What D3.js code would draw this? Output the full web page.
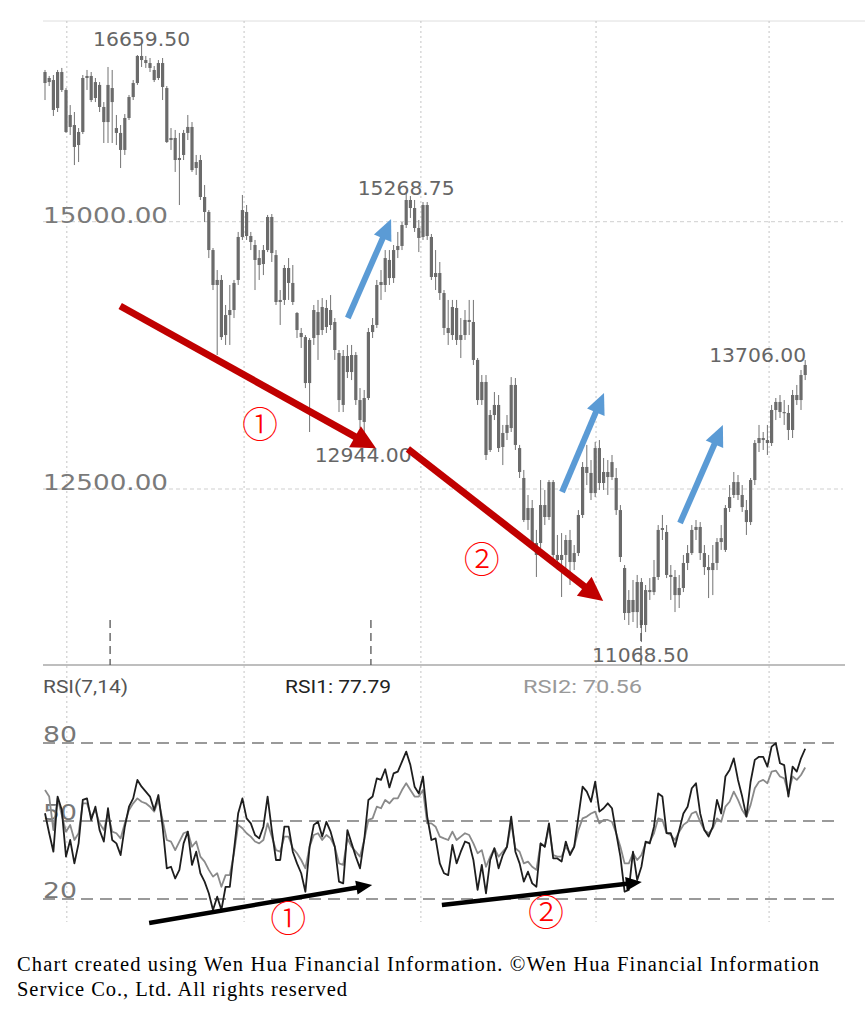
<!DOCTYPE html>
<html><head><meta charset="utf-8">
<script src="https://cdn.jsdelivr.net/npm/d3@7"></script>
<style>body{margin:0;background:#fff}svg{display:block}</style>
</head><body>
<svg id="c" width="865" height="1018"></svg>
<script>
// ---------- DATA ----------
const opens = [16297,16344,16325,16063,16400,16232,15998,15904,15717,15839,
16344,16363,16157,16279,16073,15932,16250,15876,15830,15671,
15970,16166,16297,16550,16512,16484,16419,16344,16484,16250,
15764,15783,15596,15624,15830,15886,15502,15577,15231,15091,
14735,14455,14455,13940,14127,14174,14455,14857,15091,14866,
14782,14660,14604,14735,15044,14688,14249,14268,14567,14427,
14146,13959,13921,13491,13912,14155,13987,14193,14034,14062,
13772,13286,13744,13594,13753,13332,13127,13351,13968,14034,
14408,14408,14642,14473,14735,14773,14969,15203,15128,14941,
14857,15156,14857,14483,14520,14333,14006,13940,14193,13894,
13940,14081,14062,13707,13332,13501,12865,13192,13286,12893,
13024,13070,13473,12883,12603,12210,12322,11995,11995,12350,
12238,12565,11883,11836,11883,12023,11817,11901,12257,12706,
12650,12462,12883,12556,12659,12612,12603,12303,11761,11340,
11462,11349,11630,11228,11555,11536,11677,12117,12098,11696,
11677,11508,11574,11808,11901,12117,12145,11901,11770,11742,
11808,12004,11930,12322,12444,12565,12444,12303,12191,12584,
12930,12977,12958,12930,13239,13314,13220,13211,13052,13379,
13332,13566];
const closes = [16400,16306,16045,16400,16232,15839,15886,15699,15839,16344,
16363,16138,16306,16073,15932,16279,16119,15830,15671,15970,
16166,16297,16550,16512,16484,16438,16325,16484,16260,15745,
15783,15577,15577,15830,15886,15483,15558,15231,15091,14735,
14408,14408,13921,14127,14174,14427,14857,15109,14866,14810,
14642,14595,14735,15044,14707,14249,14268,14567,14427,14249,
13987,13921,13491,13894,14174,13940,14202,14015,14174,13800,
13332,13744,13594,13753,13332,13145,13351,13968,14034,14408,
14436,14660,14473,14735,14773,14969,15203,15128,14941,14848,
15156,14866,14483,14520,14333,14006,13959,14202,13894,13940,
14081,14062,13707,13332,13501,12818,13192,13286,12883,13024,
13099,13473,12912,12659,12210,12322,11995,11883,12350,12238,
12565,11883,11836,11883,12023,11817,11901,12257,12706,12650,
12462,12883,12556,12659,12612,12752,12303,11864,11340,11462,
11349,11630,11228,11555,11536,11677,12117,12135,11696,11677,
11508,11574,11808,11901,12117,12145,11901,11770,11742,11808,
12004,12041,12322,12425,12565,12444,12331,12191,12584,12930,
12977,12958,12930,13239,13314,13220,13211,13052,13379,13332,
13566,13660];
const highs = [16419,16363,16372,16419,16438,16250,16091,16026,15876,16372,
16419,16400,16344,16306,16119,16447,16419,15998,15904,16007,
16185,16325,16559,16659.5,16550,16531,16456,16512,16531,16269,
15876,15858,15830,15858,15998,15932,15624,15624,15343,15109,
14754,14548,14501,14221,14408,14455,14904,15250,15156,14904,
14829,14735,14782,15063,15072,14735,14361,14595,14660,14595,
14155,14006,13940,13912,14221,14268,14286,14268,14314,14099,
13800,13800,13847,13847,13781,13444,13426,14006,14099,14455,
14548,14735,14735,14782,14904,14997,15268.75,15240,15203,15016,
15184,15184,14885,14735,14623,14361,14268,14268,14268,14099,
14174,14268,14268,13725,13566,13566,13239,13407,13379,13099,
13192,13547,13538,12912,12678,12444,12397,12117,12584,12491,
12584,12584,12070,12088,12070,12117,11976,12303,12752,12912,
12771,12940,12958,12790,12771,12818,12696,12350,11789,11555,
11649,11696,11667,11602,11667,11836,12163,12257,12163,11789,
11742,11696,11883,11976,12163,12210,12191,11976,11883,11976,
12041,12163,12350,12537,12659,12631,12537,12397,12603,12958,
13099,13033,13099,13286,13351,13379,13332,13286,13426,13473,
13613,13706];
const lows = [16138,16269,15989,16026,16213,15830,15811,15530,15558,15820,
16232,16119,16119,16026,15736,15736,15736,15717,15502,15624,
15951,16138,16279,16447,16438,16400,16306,16325,16138,15736,
15671,15465,15156,15577,15764,15465,15437,15203,14997,14660,
14361,13753,13894,13847,13847,14099,14408,14829,14829,14735,
14361,14455,14501,14716,14623,14221,14034,14221,14268,14221,
13912,13819,13444,13033,13847,13707,13940,13959,13987,13707,
13220,13220,13538,13519,13286,13070,12944,13332,13912,14006,
14268,14342,14408,14427,14660,14735,14941,15035,14904,14716,
14829,14829,14455,14361,14268,13940,13847,13894,13847,13725,
13894,13940,13660,13286,13286,12771,12846,13145,12846,12724,
12958,13033,12865,12603,12191,12117,11948,11677,11948,12163,
12210,11836,11742,11490,11696,11602,11742,11873,12229,12537,
12397,12425,12491,12491,12444,12584,12257,11817,11275,11228,
11256,11200,11068.5,11162,11462,11508,11649,12023,11667,11462,
11349,11387,11536,11742,11883,12023,11836,11696,11480,11508,
11742,11930,11911,12285,12416,12397,12285,12070,12163,12537,
12846,12865,12818,12902,13145,13164,13099,12958,12977,13286,
13239,13519];
const rsi1 = [53.0,45.3,38.2,59.4,54.2,36.3,42.7,33.7,41.4,58.1,
58.7,50.4,55.5,46.5,42.1,54.9,42.7,41.4,36.9,47.8,
55.5,58.7,65.8,63.2,61.3,59.4,54.2,60.0,47.8,31.8,
32.4,27.9,31.2,41.4,45.9,33.1,38.2,29.9,26.7,22.2,
15.8,20.9,15.8,24.7,24.7,38.8,53.0,58.7,51.0,49.1,
44.6,43.3,47.8,59.4,46.5,35.0,35.0,47.8,47.8,38.2,
33.7,29.9,22.8,40.1,48.5,49.7,44.0,49.7,45.9,40.1,
26.7,26.0,46.5,41.4,36.3,31.8,42.7,58.1,59.4,66.4,
65.8,69.9,62.9,68.3,69.0,72.8,76.7,71.5,63.2,60.6,
67.1,51.7,42.7,43.3,33.7,29.9,29.2,40.8,33.7,38.2,
42.1,41.4,35.0,23.5,33.1,22.2,35.0,39.5,31.8,36.9,
40.1,51.7,38.2,33.7,26.7,30.5,26.0,24.7,41.4,40.1,
49.1,35.6,35.6,34.4,42.1,36.9,40.1,51.7,63.2,61.3,
57.4,65.1,53.6,54.9,56.8,54.9,45.3,36.3,22.8,23.5,
38.2,27.3,32.4,42.1,41.4,47.8,60.6,59.4,45.3,45.3,
40.1,46.5,52.9,55.5,62.6,64.5,52.9,46.5,44.0,47.8,
58.1,52.9,67.1,69.6,74.1,65.8,59.4,51.7,65.1,73.5,
74.7,74.7,70.9,78.6,79.9,72.2,71.5,59.4,70.9,69.0,
74.1,77.79];
const rsi2 = [61.9,59.4,46.5,58.7,52.3,45.9,48.5,42.7,45.3,56.8,
56.8,51.7,54.2,49.1,46.5,52.9,45.9,45.3,43.3,49.1,
54.2,56.8,58.7,57.4,56.8,55.5,53.6,58.1,50.4,42.7,
42.1,38.8,42.1,45.3,45.9,40.1,42.1,36.3,34.4,31.2,
28.6,29.9,24.7,29.2,29.2,37.6,48.5,47.2,45.3,44.0,
42.1,41.4,42.7,49.1,44.0,38.8,38.2,44.0,44.0,39.5,
37.6,35.0,31.8,40.1,44.6,45.3,42.7,44.6,43.3,40.1,
33.7,33.1,43.3,40.1,38.2,36.3,42.7,50.4,51.0,55.5,
54.9,58.1,56.8,58.7,58.7,61.9,64.5,61.9,59.4,59.4,
61.9,49.1,49.1,47.8,44.0,43.3,42.7,45.9,42.7,44.0,
45.3,44.6,41.4,37.6,38.8,32.4,36.3,39.5,36.3,38.2,
40.1,49.1,39.5,38.2,33.7,34.4,32.4,31.2,41.4,40.1,
47.8,36.9,36.3,36.3,40.1,37.6,40.1,46.5,51.0,51.7,
52.9,53.6,49.1,50.4,50.4,49.7,45.3,40.1,33.7,33.7,
37.6,35.0,36.9,41.4,42.1,45.3,51.0,50.4,45.3,44.6,
42.7,45.9,48.5,49.7,52.9,53.6,49.7,46.5,45.3,47.2,
51.0,49.7,55.5,57.4,61.3,58.1,54.2,51.7,56.2,62.6,
65.1,65.8,64.5,69.0,69.4,67.1,66.4,60.6,67.1,65.8,
67.7,70.56];
const priceTicks = [15000, 12500];
const rsiTicks = [80, 50, 20];
const gridIdx = [5.2, 47.4, 89.5, 131.2, 172.4];
const markerIdx = [15.5, 77.6, 141.9];
const extremeIdx = [23, 86, 76, 142, 181];
const extremeKind = ["high", "high", "low", "low", "highEnd"];
const rsiLegend = ["RSI(7,14)", "RSI1: 77.79", "RSI2: 70.56"];
const redArrows = [[17.9, 14212, 78.8, 12880], [86.4, 12874, 132.9, 11452]];
const blueArrows = [[72.1, 14099, 82.4, 15025], [123.1, 12472, 133.1, 13398], [151.2, 12182, 161.4, 13099]];
const rsiArrows = [[24.8, 10.8, 77.9, 25.4], [94.5, 17.7, 142.1, 26.5]];
const priceMarks = [["①", 51.2, 13099], ["②", 104, 11836]];
const rsiMarks = [["①", 57.9, 12.3], ["②", 119.3, 14.6]];
const footer = ["Chart created using Wen Hua Financial Information. ©Wen Hua Financial Information",
                "Service Co., Ltd. All rights reserved"];

// ---------- SCALES ----------
const svg = d3.select("#c");
const n = closes.length;
const x = d3.scaleLinear().domain([0, n - 1]).range([45, 805.2]);
const y = d3.scaleLinear().domain([12500, 15000]).range([489, 221.7]);
const yr = d3.scaleLinear().domain([20, 80]).range([899, 743]);
const L = 43;

// frame
svg.append("line").attr("x1", L).attr("x2", 865).attr("y1", 21).attr("y2", 21)
  .attr("stroke", "#dedede").attr("stroke-width", 1);
svg.selectAll(".vg").data(gridIdx).enter().append("line")
  .attr("x1", d => x(d)).attr("x2", d => x(d)).attr("y1", 21).attr("y2", 922)
  .attr("stroke", "#c4c4c4").attr("stroke-width", 1).attr("stroke-dasharray", "2,3");
svg.selectAll(".hg").data(priceTicks).enter().append("line")
  .attr("x1", L).attr("x2", 843).attr("y1", d => y(d)).attr("y2", d => y(d))
  .attr("stroke", "#cfcfcf").attr("stroke-width", 1).attr("stroke-dasharray", "4,3");
svg.selectAll(".pl").data(priceTicks).enter().append("text")
  .attr("x", L).attr("y", d => y(d) + 1)
  .attr("font-family", "DejaVu Sans").attr("font-size", 21.5).attr("fill", "#7a7a7a")
  .attr("textLength", 125).attr("lengthAdjust", "spacingAndGlyphs")
  .text(d => d3.format(".2f")(d));

// axis line
svg.append("line").attr("x1", L).attr("x2", 845).attr("y1", 665).attr("y2", 665)
  .attr("stroke", "#a8a8a8").attr("stroke-width", 1.5);

// candles
const idx = d3.range(n);
const cg = svg.append("g");
cg.selectAll(".w").data(idx).enter().append("line")
  .attr("x1", i => x(i)).attr("x2", i => x(i))
  .attr("y1", i => y(highs[i])).attr("y2", i => y(lows[i]))
  .attr("stroke", "#737373").attr("stroke-width", 1);
cg.selectAll(".b").data(idx).enter().append("rect")
  .attr("x", i => x(i) - 1.6).attr("width", 3.2)
  .attr("y", i => y(Math.max(opens[i], closes[i])))
  .attr("height", i => Math.max(1.2, Math.abs(y(opens[i]) - y(closes[i]))))
  .attr("fill", "#6b6b6b");

// markers
svg.selectAll(".mk").data(markerIdx).enter().append("line")
  .attr("x1", d => x(d)).attr("x2", d => x(d)).attr("y1", 620).attr("y2", 665)
  .attr("stroke", "#555").attr("stroke-width", 1.3).attr("stroke-dasharray", "8,5");

// extreme labels
extremeIdx.forEach((i, k) => {
  const kind = extremeKind[k];
  const v = kind === "low" ? lows[i] : highs[i];
  const t = svg.append("text")
    .attr("font-family", "DejaVu Sans").attr("font-size", 19).attr("fill", "#666")
    .attr("textLength", 97).attr("lengthAdjust", "spacingAndGlyphs")
    .text(d3.format(".2f")(v));
  if (kind === "high") t.attr("x", x(i)).attr("y", y(v) + 2).attr("text-anchor", "middle");
  else if (kind === "low") t.attr("x", x(i) - 1).attr("y", y(v) + 20).attr("text-anchor", "middle");
  else t.attr("x", x(i) + 1).attr("y", y(v) + 2).attr("text-anchor", "end");
});

// arrow helper
function arrow(x1, y1, x2, y2, color, w, hl, hw) {
  const dx = x2 - x1, dy = y2 - y1, len = Math.hypot(dx, dy);
  const ux = dx / len, uy = dy / len, px = -uy, py = ux;
  const bx = x2 - ux * hl, by = y2 - uy * hl;
  svg.append("line").attr("x1", x1).attr("y1", y1).attr("x2", bx + ux * 1).attr("y2", by + uy * 1)
    .attr("stroke", color).attr("stroke-width", w);
  svg.append("polygon")
    .attr("points", [[x2, y2], [bx + px * hw / 2, by + py * hw / 2], [bx - px * hw / 2, by - py * hw / 2]].map(p => p.join(",")).join(" "))
    .attr("fill", color);
}
redArrows.forEach(a => arrow(x(a[0]), y(a[1]), x(a[2]), y(a[3]), "#C00000", 7, 24, 24));
blueArrows.forEach(a => arrow(x(a[0]), y(a[1]), x(a[2]), y(a[3]), "#5B9BD5", 6, 21, 19));

priceMarks.forEach(m => svg.append("text").attr("x", x(m[1])).attr("y", y(m[2]) + 13)
  .attr("text-anchor", "middle").attr("font-family", "Noto Sans CJK SC").attr("font-size", 36)
  .attr("font-weight", 300).attr("fill", "#FF0000").text(m[0]));

// RSI legend
const legX = [L, 285, 523], legC = ["#555", "#222", "#999"], legW = [85, 106, 119];
rsiLegend.forEach((t, k) => svg.append("text").attr("x", legX[k]).attr("y", 693)
  .attr("font-family", "Roboto").attr("font-size", 19).attr("fill", legC[k])
  .attr("textLength", legW[k]).attr("lengthAdjust", "spacingAndGlyphs").text(t));

// RSI levels
svg.selectAll(".rl").data(rsiTicks).enter().append("line")
  .attr("x1", L).attr("x2", 839).attr("y1", d => yr(d)).attr("y2", d => yr(d))
  .attr("stroke", "#7a7a7a").attr("stroke-width", 1.6).attr("stroke-dasharray", "12,7");
svg.selectAll(".rt").data(rsiTicks).enter().append("text")
  .attr("x", L).attr("y", d => yr(d) - 1)
  .attr("font-family", "DejaVu Sans").attr("font-size", 22).attr("fill", "#777")
  .attr("textLength", 34).attr("lengthAdjust", "spacingAndGlyphs").text(d => d);

// RSI lines
const line = d3.line().x((d, i) => x(i)).y(d => yr(d));
svg.append("path").datum(rsi2).attr("d", line).attr("fill", "none")
  .attr("stroke", "#8a8a8a").attr("stroke-width", 1.8).attr("stroke-linejoin", "round");
svg.append("path").datum(rsi1).attr("d", line).attr("fill", "none")
  .attr("stroke", "#1e1e1e").attr("stroke-width", 1.8).attr("stroke-linejoin", "round");

rsiArrows.forEach(a => arrow(x(a[0]), yr(a[1]), x(a[2]), yr(a[3]), "#000", 4.5, 16, 14));
rsiMarks.forEach(m => svg.append("text").attr("x", x(m[1])).attr("y", yr(m[2]) + 13)
  .attr("text-anchor", "middle").attr("font-family", "Noto Sans CJK SC").attr("font-size", 36)
  .attr("font-weight", 300).attr("fill", "#FF0000").text(m[0]));

// footer
svg.append("text").attr("x", 17).attr("y", 971).attr("font-family", "Liberation Serif")
  .attr("font-size", 20.5).attr("fill", "#000").attr("textLength", 802).attr("lengthAdjust", "spacing").text(footer[0]);
svg.append("text").attr("x", 17).attr("y", 996).attr("font-family", "Liberation Serif")
  .attr("font-size", 20.5).attr("fill", "#000").attr("textLength", 330).attr("lengthAdjust", "spacing").text(footer[1]);
</script>
</body></html>
